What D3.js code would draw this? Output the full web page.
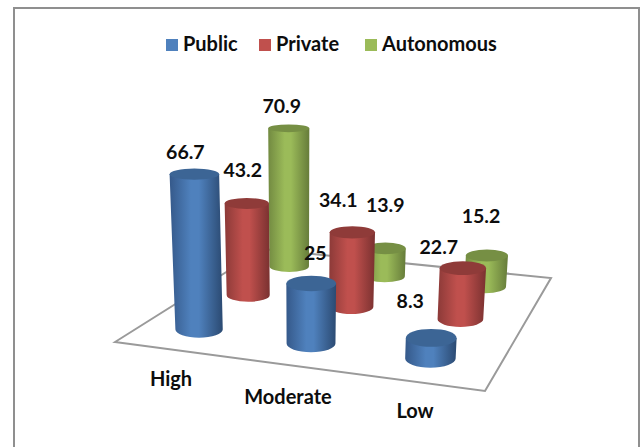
<!DOCTYPE html>
<html>
<head>
<meta charset="utf-8">
<style>
  html, body { margin: 0; padding: 0; background: #fff; }
  svg { display: block; }
  text { font-family: Lato, "Open Sans", sans-serif; font-weight: 700; fill: #0d0d0d; }
</style>
</head>
<body>
<div id="chart"></div>
<script src="https://d3js.org/d3.v7.min.js"></script>
<script>
// values
var categories = ["High", "Moderate", "Low"];
var seriesNames = ["Public", "Private", "Autonomous"];
var publicValues = [66.7, 25, 8.3];
var privateValues = [43.2, 34.1, 22.7];
var autonomousValues = [70.9, 13.9, 15.2];
var allValues = [publicValues, privateValues, autonomousValues];

var width = 640, height = 447;

var svg = d3.select("#chart").append("svg")
  .attr("width", width)
  .attr("height", height);

// colours: body light, body left, body right, lid
var colors = [
  { main: "#4f81bd", left: "#35598a", right: "#2b4a72", lid: "#3c6595" },
  { main: "#c0504d", left: "#8c3a38", right: "#7a3130", lid: "#8f3b39" },
  { main: "#9bbb59", left: "#728a41", right: "#667c3a", lid: "#768f44" }
];

var defs = svg.append("defs");
colors.forEach(function(c, i) {
  var g = defs.append("linearGradient").attr("id", "body" + i);
  g.append("stop").attr("offset", "0%").attr("stop-color", c.left);
  g.append("stop").attr("offset", "40%").attr("stop-color", c.main);
  g.append("stop").attr("offset", "55%").attr("stop-color", c.main);
  g.append("stop").attr("offset", "100%").attr("stop-color", c.right);
});

// outer frame, bottom edge falls off the picture
svg.append("path")
  .attr("d", "M14,447V8H639V447")
  .attr("fill", "none")
  .attr("stroke", "#8f8f8f")
  .attr("stroke-width", 2);

// floor corners in order front-left, front-right, back-right, back-left
var floor = [[115, 342], [485, 391], [551, 278], [263, 249]];

// perspective map of the unit square on to the floor
var dx1 = floor[1][0] - floor[2][0], dx2 = floor[3][0] - floor[2][0];
var dy1 = floor[1][1] - floor[2][1], dy2 = floor[3][1] - floor[2][1];
var sx = floor[0][0] - floor[1][0] + floor[2][0] - floor[3][0];
var sy = floor[0][1] - floor[1][1] + floor[2][1] - floor[3][1];
var det = dx1 * dy2 - dx2 * dy1;
var pg = (sx * dy2 - dx2 * sy) / det;
var ph = (dx1 * sy - sx * dy1) / det;

function project(u, v) {
  var w = pg * u + ph * v + 1;
  return {
    x: ((floor[1][0] * (1 + pg) - floor[0][0]) * u + (floor[3][0] * (1 + ph) - floor[0][0]) * v + floor[0][0]) / w,
    y: ((floor[1][1] * (1 + pg) - floor[0][1]) * u + (floor[3][1] * (1 + ph) - floor[0][1]) * v + floor[0][1]) / w,
    s: 1 / w
  };
}

var uScale = d3.scalePoint().domain(categories).range([0, 0.985]).padding(0.5);
var vScale = d3.scalePoint().domain(seriesNames).range([0, 1]).padding(0.5);
var hScale = d3.scaleLinear().domain([0, 100]).range([0, 241]);
var rScale = 24.5;
var vanishX = 300;

function flatness(y) { return 0.09 + 0.00078 * y; }

svg.append("polygon")
  .attr("points", floor.join(" "))
  .attr("fill", "#fff")
  .attr("stroke", "#9a9a9a")
  .attr("stroke-width", 2);

// back row first so nearer cylinders cover it
var cylinders = [];
seriesNames.forEach(function(name, si) {
  categories.forEach(function(cat, ci) {
    cylinders.push({ si: si, ci: ci, name: name, cat: cat, value: allValues[si][ci] });
  });
});
cylinders.sort(function(a, b) { return b.si - a.si || a.ci - b.ci; });

cylinders.forEach(function(d) {
  var p = project(uScale(d.cat), vScale(d.name));
  var h = hScale(d.value) * p.s;
  var grow = 1 + h * 0.0003;
  var rb = rScale * p.s;
  var rt = rb * grow;
  var tx = vanishX + (p.x - vanishX) * grow;
  var ty = p.y - h;
  var ryb = rb * flatness(p.y);
  var ryt = rt * flatness(ty);
  d.top = { x: tx, y: ty };

  var g = svg.append("g");
  g.append("path")
    .attr("d", "M" + (tx - rt) + "," + ty +
      "L" + (p.x - rb) + "," + p.y +
      "A" + rb + "," + ryb + " 0 0 0 " + (p.x + rb) + "," + p.y +
      "L" + (tx + rt) + "," + ty + "Z")
    .attr("fill", "url(#body" + d.si + ")");
  g.append("ellipse")
    .attr("cx", tx).attr("cy", ty)
    .attr("rx", rt).attr("ry", ryt)
    .attr("fill", colors[d.si].lid);
});

// value labels sit where the original layout left them, relative to each lid
var labelNudge = [
  [[-9, -15], [4, -23], [-21, -30]],
  [[-4, -26], [-14, -25], [-24, -14]],
  [[-7, -15], [0, -36], [-6, -33]]
];

svg.append("g").selectAll("text")
  .data(cylinders)
  .join("text")
  .attr("text-anchor", "middle")
  .attr("font-size", 19.5)
  .attr("x", function(d) { return d.top.x + labelNudge[d.si][d.ci][0]; })
  .attr("y", function(d) { return d.top.y + labelNudge[d.si][d.ci][1]; })
  .text(function(d) { return d.value; });

// category labels along the front edge
var catX = d3.scaleOrdinal().domain(categories).range([171, 288, 415]);
var catY = d3.scaleOrdinal().domain(categories).range([386, 404, 418]);
svg.append("g").selectAll("text")
  .data(categories)
  .join("text")
  .attr("text-anchor", "middle")
  .attr("font-size", 20)
  .attr("x", function(d) { return catX(d); })
  .attr("y", function(d) { return catY(d); })
  .text(function(d) { return d; });

// legend
var legendX = d3.scaleOrdinal().domain(seriesNames).range([166, 259, 365]);
var legend = svg.append("g").selectAll("g")
  .data(seriesNames)
  .join("g")
  .attr("transform", function(d) { return "translate(" + legendX(d) + ",39)"; });
legend.append("rect")
  .attr("width", 12).attr("height", 12)
  .attr("fill", function(d, i) { return colors[i].main; });
legend.append("text")
  .attr("x", 17).attr("y", 12)
  .attr("font-size", 20)
  .text(function(d) { return d; });
</script>
</body>
</html>
